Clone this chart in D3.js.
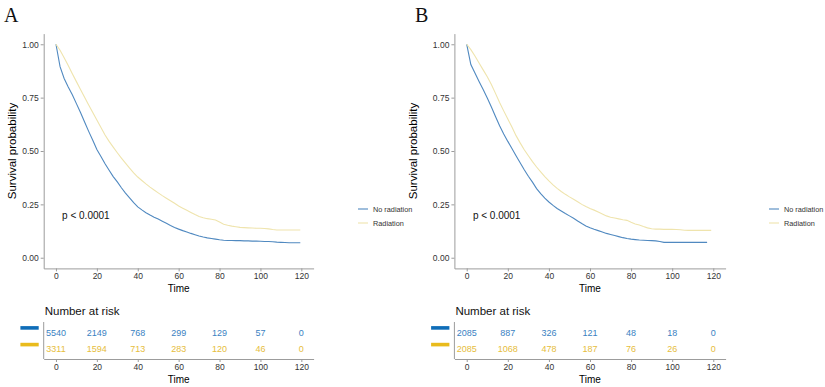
<!DOCTYPE html>
<html><head><meta charset="utf-8">
<script src="https://cdn.jsdelivr.net/npm/d3@7"></script>
<style>body{margin:0;background:#fff}svg{display:block;font-family:"Liberation Sans",Arial,sans-serif}</style>
</head><body><svg id="c" width="825" height="387"></svg>
<script>
// ---- data ----
const months = [0,2,4,6,8,10,12,14,16,18,20,22,24,26,28,30,32,34,36,38,40,42,44,46,48,50,52,54,56,58,60,62,64,66,68,70,72,74,76,78,80,82,84,86,88,90,92,94,96,98,100,102,104,106,108,110,112,114,116,118];
const groups = ["No radiation","Radiation"];
const xTicks = [0,20,40,60,80,100,120];
const yTicks = [0,0.25,0.5,0.75,1];
const yTickLabels = ["0.00","0.25","0.50","0.75","1.00"];
const endTimeA = [119.5,119.5];
const endTimeB = [117,119];
const survA_noRad = [1.000,0.895,0.840,0.800,0.763,0.722,0.680,0.636,0.592,0.550,0.507,0.474,0.440,0.410,0.380,0.355,0.328,0.303,0.280,0.258,0.238,0.224,0.211,0.200,0.190,0.181,0.171,0.161,0.151,0.142,0.134,0.127,0.121,0.114,0.108,0.102,0.097,0.093,0.090,0.087,0.084,0.082,0.081,0.081,0.080,0.080,0.079,0.079,0.078,0.078,0.077,0.076,0.076,0.075,0.073,0.072,0.071,0.070,0.070,0.070];
const survA_rad = [1.000,0.972,0.937,0.900,0.862,0.825,0.788,0.752,0.716,0.680,0.645,0.610,0.575,0.545,0.518,0.492,0.467,0.443,0.420,0.398,0.378,0.362,0.346,0.331,0.317,0.304,0.291,0.279,0.267,0.255,0.242,0.232,0.222,0.212,0.202,0.193,0.187,0.183,0.180,0.177,0.167,0.157,0.152,0.148,0.145,0.142,0.141,0.140,0.139,0.138,0.138,0.137,0.135,0.132,0.130,0.130,0.130,0.130,0.130,0.130];
const survB_noRad = [1.000,0.905,0.865,0.826,0.788,0.748,0.706,0.662,0.618,0.580,0.545,0.512,0.478,0.445,0.412,0.382,0.354,0.324,0.300,0.279,0.261,0.245,0.231,0.219,0.207,0.196,0.185,0.172,0.160,0.149,0.140,0.133,0.127,0.121,0.114,0.109,0.104,0.099,0.094,0.090,0.087,0.085,0.083,0.082,0.081,0.080,0.079,0.076,0.072,0.072,0.072,0.072,0.072,0.072,0.072,0.072,0.072,0.072,0.072,0.072];
const survB_rad = [1.000,0.975,0.945,0.912,0.880,0.848,0.812,0.770,0.727,0.688,0.650,0.612,0.572,0.538,0.506,0.478,0.450,0.425,0.402,0.380,0.360,0.341,0.325,0.310,0.297,0.285,0.274,0.262,0.250,0.240,0.231,0.223,0.214,0.205,0.196,0.190,0.186,0.182,0.178,0.175,0.166,0.158,0.153,0.146,0.140,0.136,0.134,0.134,0.133,0.133,0.133,0.132,0.131,0.129,0.128,0.128,0.128,0.128,0.128,0.128];
const riskA_noRad = [5540,2149,768,299,129,57,0];
const riskA_rad = [3311,1594,713,283,120,46,0];
const riskB_noRad = [2085,887,326,121,48,18,0];
const riskB_rad = [2085,1068,478,187,76,26,0];
const pText = "p < 0.0001";

// ---- styles ----
const lineCol = ["#5089c0","#efe4ad"];
const textCol = ["#3a82c2","#e6bd3c"];
const barCol = ["#0f6db8","#e9bb1c"];
const axisCol = "#9c9c9c";
const tickTxt = "#333";

const svg = d3.select("#c");

function panel(o){
  const g = svg.append("g");
  const x = d3.scaleLinear().domain([-6,126]).range(o.xr);
  const y = d3.scaleLinear().domain([-0.05,1.05]).range([268.4,33.6]);
  g.append("text").attr("x",o.letterX).attr("y",21.5).attr("font-family","'Liberation Serif','Times New Roman',serif")
    .attr("font-size",20).attr("fill","#111").text(o.letter);
  const ax = g.append("g").attr("transform",`translate(0,${y.range()[0]})`)
    .call(d3.axisBottom(x).tickValues(xTicks).tickSize(3).tickPadding(2).tickSizeOuter(0));
  const ay = g.append("g").attr("transform",`translate(${o.xr[0]},0)`)
    .call(d3.axisLeft(y).tickValues(yTicks).tickFormat((d,i)=>yTickLabels[i]).tickSize(3).tickPadding(2).tickSizeOuter(0));
  [ax,ay].forEach(a=>{
    a.select(".domain").attr("stroke",axisCol);
    a.selectAll(".tick line").attr("stroke",axisCol);
    a.selectAll(".tick text").attr("fill",tickTxt).attr("font-size",8.5).attr("font-family","'Liberation Sans',Arial,sans-serif");
  });
  g.append("text").attr("x",x(60)).attr("y",292).attr("text-anchor","middle").attr("font-size",10).text("Time");
  g.append("text").attr("transform",`translate(${o.yTitleX},${y(0.5)}) rotate(-90)`).attr("text-anchor","middle")
    .attr("font-size",11.5).text("Survival probability");
  const line = d3.line().x(d=>x(d[0])).y(d=>y(d[1])).curve(d3.curveLinear);
  o.surv.forEach((s,i)=>{
    const pts = months.filter(m=>m<=o.ends[i]).map((m,j)=>[m,s[j]]);
    pts.push([o.ends[i], pts[pts.length-1][1]]);
    g.append("path").attr("d",line(pts)).attr("fill","none").attr("stroke",lineCol[i]).attr("stroke-width",1.1);
  });
  g.append("text").attr("x",x(3)).attr("y",y(0.2)+3.5).attr("font-size",10).attr("fill","#111").text(pText);
  groups.forEach((gr,i)=>{
    const ly = 209 + i*14;
    g.append("line").attr("x1",o.legX).attr("x2",o.legX+10).attr("y1",ly).attr("y2",ly).attr("stroke",lineCol[i]).attr("stroke-width",1.1);
    g.append("text").attr("x",o.legX+15).attr("y",ly+2.6).attr("font-size",7.3).attr("fill","#333").text(gr);
  });
  const tY = 359;
  g.append("text").attr("x",o.xr[0]+1).attr("y",315).attr("font-size",11.5).attr("fill","#111").text("Number at risk");
  g.append("line").attr("x1",o.xr[0]).attr("x2",o.xr[0]).attr("y1",322).attr("y2",tY).attr("stroke",axisCol);
  const tx = g.append("g").attr("transform",`translate(0,${tY})`)
    .call(d3.axisBottom(x).tickValues(xTicks).tickSize(3).tickPadding(2).tickSizeOuter(0));
  tx.select(".domain").attr("stroke",axisCol);
  tx.selectAll(".tick line").attr("stroke",axisCol);
  tx.selectAll(".tick text").attr("fill",tickTxt).attr("font-size",8.5).attr("font-family","'Liberation Sans',Arial,sans-serif");
  g.append("text").attr("x",x(60)).attr("y",383).attr("text-anchor","middle").attr("font-size",10).text("Time");
  const rowY = [332.3,349];
  o.risk.forEach((r,i)=>{
    g.append("rect").attr("x",o.xr[0]-23.3).attr("y",rowY[i]-6.2).attr("width",18.3).attr("height",3.6).attr("fill",barCol[i]);
    r.forEach((v,j)=>{
      g.append("text").attr("x",x(xTicks[j])).attr("y",rowY[i]+3.3).attr("text-anchor","middle")
        .attr("font-size",9).attr("fill",textCol[i]).text(v);
    });
  });
}

panel({letter:"A",letterX:4,xr:[43.7,313.6],yTitleX:16,legX:358,ends:endTimeA,
  surv:[survA_noRad,survA_rad],risk:[riskA_noRad,riskA_rad]});
panel({letter:"B",letterX:415,xr:[454.4,725.6],yTitleX:417,legX:769,ends:endTimeB,
  surv:[survB_noRad,survB_rad],risk:[riskB_noRad,riskB_rad]});
</script></body></html>
